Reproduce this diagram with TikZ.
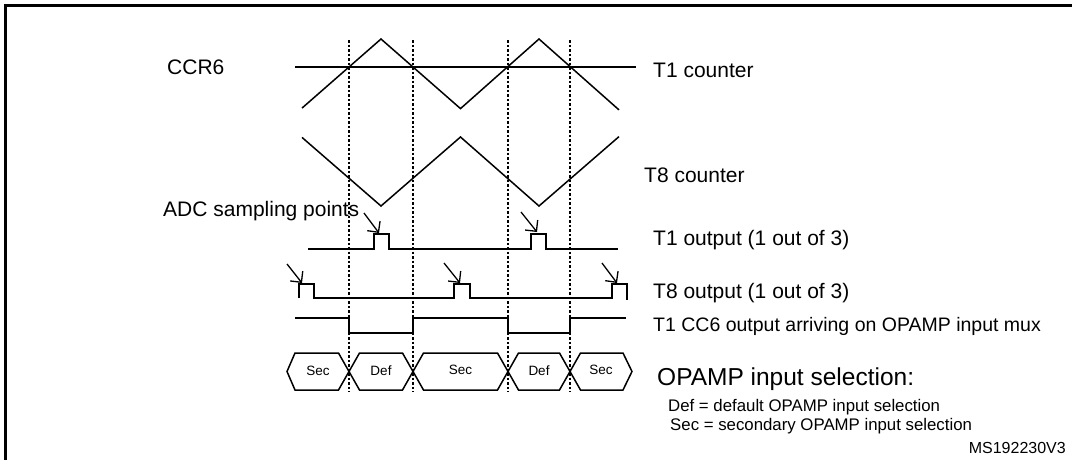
\documentclass[tikz,border=0pt]{standalone}
\usepackage{fontspec}
\setmainfont{Liberation Sans}
\usetikzlibrary{arrows.meta}
\begin{document}
\begin{tikzpicture}[x=1pt,y=-1pt,
  wave/.style={line width=1.5pt, line join=miter},
  guide/.style={line width=1.1pt, dash pattern=on 2.5pt off 2pt},
  frame/.style={line width=3pt},
  adcarrow/.style={line width=1.3pt, -{Straight Barb[length=8pt,width=16pt,line width=1.3pt]}},
  lbl/.style={font=\fontsize{21}{25}\selectfont, anchor=base west, inner sep=0pt},
  midlbl/.style={font=\fontsize{19.5}{23}\selectfont, anchor=base west, inner sep=0pt},
  headlbl/.style={font=\fontsize{24.5}{29}\selectfont, anchor=base west, inner sep=0pt},
  smalllbl/.style={font=\fontsize{16.8}{20}\selectfont, anchor=base west, inner sep=0pt},
  buslbl/.style={font=\fontsize{13.5}{16}\selectfont, inner sep=0pt},
  idlbl/.style={font=\fontsize{16}{19}\selectfont, anchor=base east, inner sep=0pt}]
\useasboundingbox (0,0) rectangle (1072,459);
% frame
\draw[frame] (5,470) -- (5,5) -- (1080,5);
% dashed guides
\foreach \gx in {349,413,508,570}
  \draw[guide] (\gx,40) -- (\gx,392);
% CCR6 level and T1 counter
\draw[wave] (295,67) -- (636,67);
\draw[wave] (302,108.1) -- (381,39) -- (460.5,108.6) -- (539,39) -- (619,109.9);
% T8 counter
\draw[wave] (302,137.4) -- (381,206) -- (460.5,137) -- (539,206) -- (619,136.6);
% T1 output
\draw[wave] (308,249) -- (374,249) -- (374,234) -- (389,234) -- (389,249) -- (531,249) -- (531,234) -- (546,234) -- (546,249) -- (618,249);
% T8 output
\draw[wave] (299,298) -- (299,284) -- (314,284) -- (314,298) -- (454,298) -- (454,284) -- (470,284) -- (470,298) -- (612,298) -- (612,284) -- (627,284) -- (627,300);
% T1 CC6 output
\draw[wave] (295,318) -- (349,318) -- (349,333) -- (413,333) -- (413,318) -- (508,318) -- (508,333) -- (570,333) -- (570,318) -- (626,318);
% OPAMP input selection bus
\def\bt{353}\def\bb{390}\def\bm{371.5}
\draw[wave] (287,\bm) -- (295,\bt) -- (338.5,\bt) -- (349,\bm) -- (338.5,\bb) -- (295,\bb) -- cycle;
\draw[wave] (349,\bm) -- (359.5,\bt) -- (402.5,\bt) -- (413,\bm) -- (402.5,\bb) -- (359.5,\bb) -- cycle;
\draw[wave] (413,\bm) -- (423.5,\bt) -- (497.5,\bt) -- (508,\bm) -- (497.5,\bb) -- (423.5,\bb) -- cycle;
\draw[wave] (508,\bm) -- (518.5,\bt) -- (559.5,\bt) -- (570,\bm) -- (559.5,\bb) -- (518.5,\bb) -- cycle;
\draw[wave] (570,\bm) -- (580.5,\bt) -- (623,\bt) -- (632,\bm) -- (623,\bb) -- (580.5,\bb) -- cycle;
\node[buslbl] (s1) at (318,371) {Sec};
\node[buslbl] (d1) at (381,371) {Def};
\node[buslbl] (s2) at (460.5,370) {Sec};
\node[buslbl] (d2) at (539,371) {Def};
\node[buslbl] (s3) at (601,370) {Sec};
% ADC sampling arrows
\coordinate (a1s) at (364,213); \coordinate (a1e) at (379,233);
\coordinate (a2s) at (521,212); \coordinate (a2e) at (537,232);
\coordinate (b1s) at (287,264); \coordinate (b1e) at (302,283);
\coordinate (b2s) at (444,263); \coordinate (b2e) at (460,283);
\coordinate (b3s) at (602,263); \coordinate (b3e) at (617,283);
\draw[adcarrow] (a1s) -- (a1e);
\draw[adcarrow] (a2s) -- (a2e);
\draw[adcarrow] (b1s) -- (b1e);
\draw[adcarrow] (b2s) -- (b2e);
\draw[adcarrow] (b3s) -- (b3e);
% labels
\node[lbl] (ccr6) at (167,74.5) {CCR6};
\node[lbl] (t1c) at (653,77) {T1 counter};
\node[lbl] (t8c) at (644,182) {T8 counter};
\node[lbl] (adc) at (163,216) {ADC sampling points};
\node[lbl] (t1o) at (653,245) {T1 output (1 out of 3)};
\node[lbl] (t8o) at (653,298) {T8 output (1 out of 3)};
\node[midlbl] (cc6) at (653,331) {T1 CC6 output arriving on OPAMP input mux};
\node[headlbl] (sel) at (657,385) {OPAMP input selection:};
\node[smalllbl] (def) at (668,411) {Def = default OPAMP input selection};
\node[smalllbl] (sec) at (670,430) {Sec = secondary OPAMP input selection};
\node[idlbl] (id) at (1066,453) {MS192230V3};
\end{tikzpicture}
\end{document}
